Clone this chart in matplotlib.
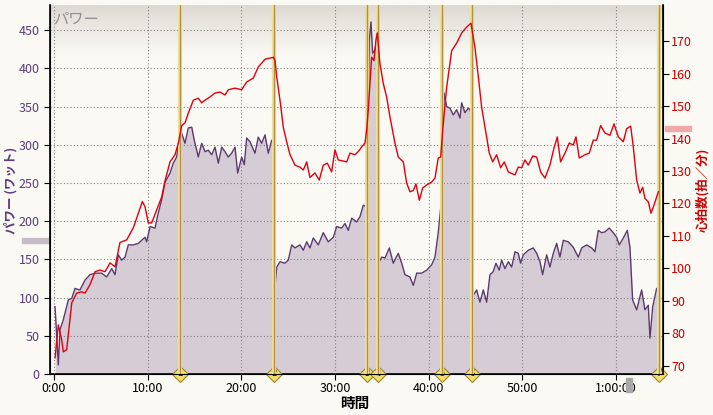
import numpy as np
import matplotlib
matplotlib.use('Agg')
import matplotlib.pyplot as plt
from matplotlib.transforms import blended_transform_factory

plt.rcParams['font.family'] = ['Noto Sans CJK JP', 'DejaVu Sans']

# power (W), time in minutes
pw_t = [0.11, 0.46, 0.64, 0.99, 1.53, 1.89, 2.24, 2.77, 3.31, 3.84, 4.38, 5.09, 5.62, 6.16, 6.51,
        6.86, 7.22, 7.58, 7.93, 8.46, 9.0, 9.71, 9.89, 10.25, 10.78, 11.13, 11.49, 11.85, 12.38,
        12.73, 13.09, 13.27, 13.63, 13.98, 14.33, 14.7, 14.97, 15.4, 15.76, 16.12, 16.47, 16.83,
        17.18, 17.54, 17.9, 18.25, 18.6, 18.96, 19.32, 19.6, 20.03, 20.31, 20.56, 20.92, 21.45,
        21.8, 22.16, 22.52, 22.87, 23.23, 23.45, 23.55, 23.77, 24.12, 24.65, 25.0, 25.37, 25.72,
        26.25, 26.61, 26.97, 27.32, 27.67, 28.21, 28.74, 29.27, 29.81, 30.17, 30.7, 31.06, 31.41,
        31.77, 32.3, 32.66, 33.01, 33.3, 33.48, 33.65, 33.83, 34.01, 34.26, 34.44, 34.56, 34.65,
        34.97, 35.33, 35.79, 36.21, 36.74, 37.11, 37.46, 37.99, 38.35, 38.71, 39.24, 39.78, 40.31,
        40.66, 41.01, 41.27, 41.48, 41.62, 41.91, 42.26, 42.62, 42.98, 43.33, 43.51, 43.86, 44.22,
        44.4, 44.55, 44.65, 44.75, 45.11, 45.46, 45.82, 46.18, 46.53, 46.88, 47.17, 47.52, 47.78,
        48.13, 48.49, 48.85, 49.2, 49.55, 49.8, 50.09, 50.62, 51.15, 51.52, 51.87, 52.15, 52.58,
        52.93, 53.29, 53.65, 54.0, 54.36, 54.89, 55.42, 55.96, 56.32, 56.85, 57.39, 57.74, 58.09,
        58.45, 58.8, 59.26, 59.69, 60.05, 60.33, 60.76, 61.19, 61.47, 61.76, 62.19, 62.72, 63.07,
        63.43, 63.61, 63.9, 64.32, 64.53]
pw_v = [88, 12, 58, 71, 97, 99, 112, 110, 123, 130, 132, 132, 127, 138, 130,
        156, 149, 153, 169, 169, 171, 179, 173, 193, 191, 211, 228, 251, 263,
        276, 284, 302, 315, 302, 322, 323, 306, 284, 302, 291, 293, 287,
        297, 276, 297, 291, 284, 289, 297, 263, 284, 274, 309, 304, 289,
        310, 302, 313, 289, 306, 300, 110, 140, 147, 145, 149, 169, 165,
        169, 162, 173, 165, 178, 169, 185, 173, 179, 193, 191, 197, 188,
        204, 199, 206, 221, 219, 302, 437, 461, 420, 424, 437, 400, 145,
        153, 152, 165, 145, 158, 145, 130, 127, 116, 132, 132, 136, 143,
        153, 185, 217, 280, 368, 350, 348, 339, 346, 335, 355, 342, 348,
        346, 340, 110, 103, 110, 94, 110, 94, 130, 134, 145, 136, 149,
        138, 147, 140, 160, 158, 145, 156, 162, 165, 158, 147, 130, 156,
        140, 158, 171, 153, 175, 173, 166, 153, 165, 169, 165, 160, 188,
        185, 186, 191, 185, 179, 169, 178, 188, 166, 97, 84, 110, 84,
        90, 47, 88, 112, 107]

# heart rate (bpm)
hr_t = [0.11, 0.46, 0.82, 0.99, 1.35, 1.89, 2.42, 2.95, 3.31, 3.84, 4.38, 4.91, 5.44, 5.98, 6.51,
        7.04, 7.76, 8.46, 9.0, 9.43, 9.71, 10.07, 10.42, 10.96, 11.49, 11.85, 12.38, 12.91, 13.27,
        13.63, 13.98, 14.33, 14.87, 15.4, 15.76, 16.12, 16.65, 17.18, 17.72, 18.25, 18.6, 19.32,
        20.03, 20.56, 21.27, 21.8, 22.52, 23.41, 23.59, 23.77, 24.12, 24.47, 24.83, 25.19, 25.72,
        26.25, 26.61, 26.97, 27.32, 27.85, 28.31, 28.74, 29.17, 29.63, 29.99, 30.34, 31.24, 31.59,
        32.12, 32.48, 32.84, 33.19, 33.37, 33.54, 33.72, 33.9, 34.15, 34.36, 34.5, 34.79, 35.14,
        35.5, 35.86, 36.39, 36.74, 37.28, 37.64, 37.99, 38.35, 38.63, 38.99, 39.35, 39.78, 40.31,
        40.66, 41.01, 41.27, 41.55, 41.91, 42.44, 42.98, 43.51, 44.04, 44.5, 44.93, 45.29, 45.64,
        46.1, 46.46, 46.82, 47.24, 47.67, 48.06, 48.49, 49.2, 49.55, 49.91, 50.27, 50.62, 51.09,
        51.52, 51.94, 52.4, 52.93, 53.36, 53.72, 54.07, 54.54, 54.99, 55.42, 55.71, 56.06, 56.67,
        57.13, 57.56, 57.92, 58.34, 58.8, 59.34, 59.77, 60.23, 60.76, 61.12, 61.55, 61.83, 62.19,
        62.54, 62.83, 63.07, 63.43, 63.72, 64.04, 64.5]
hr_v = [72.5, 82.6, 78, 74.3, 75, 89.4, 92.4, 92.8, 92.4, 95, 99, 99.5, 99, 101.7, 100.5,
        108, 108.8, 112.5, 117, 120.6, 119, 114, 114, 118, 122, 127, 132.8, 135, 138.6,
        144, 144.8, 147.8, 151.8, 152.4, 151, 151.8, 152.8, 154, 154.3, 153.4, 155, 155.5,
        155, 157.4, 158.6, 162, 164.4, 165, 164, 159, 151.8, 143.5, 139, 135, 131.8,
        131.2, 130.3, 132.8, 128, 129.4, 127.2, 131.8, 132.4, 129.7, 136.5, 133.4, 132.8, 135.5,
        135, 136, 137.4, 138.6, 142.6, 148.8, 157, 165, 164, 170.3, 172.5, 163, 157,
        152.8, 146.6, 138.6, 134.3, 132.8, 126.3, 123.6, 124, 126, 121, 124.8, 125.7, 126.6,
        127.8, 134, 134.3, 144.8, 155.8, 167, 169.4, 172.5, 174.3, 175.5, 168, 159, 149.7,
        141.7, 135.5, 132.8, 135, 131, 132.8, 129.7, 128.8, 131.2, 131, 133.4, 131.8, 134.6,
        134.3, 129.7, 127.8, 131.8, 137, 140.5, 132.8, 135.5, 138.6, 138, 140.5, 134, 135,
        135.5, 139.5, 139.5, 144, 141.7, 141, 144.5, 140.5, 139, 143, 143.8, 137.4, 127.2,
        123.2, 125, 121.6, 120.5, 117, 119.5, 123.6]

laps = [13.45, 23.5, 33.4, 34.6, 41.4, 44.6, 64.6]
lap_labels = ['1', '2', '3', '4', '5', '6', '7']
avg_power = 175
avg_hr = 143

xticks = [0, 10, 20, 30, 40, 50, 60]
xtick_labels = ['0:00', '10:00', '20:00', '30:00', '40:00', '50:00', '1:00:00']

bg = '#fbf9f4'
fig = plt.figure(figsize=(7.13, 4.15), dpi=100, facecolor=bg)
ax = fig.add_axes([50/713, 1-374/415, 613/713, 369/415])
ax.set_facecolor(bg)

# grey gradient band at top of plot area
grad = np.concatenate([np.zeros((8, 1)), np.linspace(0, 1, 100).reshape(-1, 1) ** 0.8])
cm = matplotlib.colors.LinearSegmentedColormap.from_list('g', ['#dedad4', bg])
ax.imshow(grad, cmap=cm, extent=[0, 1, 0.86, 1.0], transform=ax.transAxes,
          aspect='auto', zorder=0)

ax.fill_between(pw_t, 0, pw_v, color='#d5ccd6', zorder=2, lw=0)
ax.plot(pw_t, pw_v, color='#5b3a70', lw=1.0, zorder=3)

ax.set_xlim(-0.43, 65.0)
ax.set_ylim(0, 483)
ax.set_yticks(range(0, 451, 50))
ax.set_xticks(xticks)
ax.set_xticklabels(xtick_labels)
ax.grid(True, color='#808080', ls=(0, (1, 2)), lw=0.8, zorder=2.5)
ax.set_axisbelow(False)
ax.tick_params(axis='y', labelcolor='#5a3c7a', color='black', labelsize=9, length=4)
ax.tick_params(axis='x', labelsize=9, length=4, colors='black', pad=2)
ax.spines['top'].set_visible(False)
ax.spines['left'].set_linewidth(1.2)
ax.spines['bottom'].set_linewidth(1.2)

ax2 = ax.twinx()
ax2.patch.set_visible(False)
ax2.set_ylim(67.5, 181.1)
ax2.set_yticks(range(70, 171, 10))
ax2.tick_params(axis='y', labelcolor='#cc0000', color='black', labelsize=9, length=4, pad=2)
ax2.spines['top'].set_visible(False)
ax2.spines['right'].set_linewidth(1.2)

for lt in laps:
    ax2.axvline(lt, color='#efdf9c', lw=3.0, zorder=3)
    ax2.axvline(lt, color='#b39040', lw=1.0, zorder=3.1)

ax2.plot(hr_t, hr_v, color='#e00010', lw=1.0, zorder=4)

for lt, lb in zip(laps, lap_labels):
    ax.plot(lt, 0, marker='D', ms=8, mfc='#f2e06a', mec='#9c8430', mew=0.8,
            clip_on=False, zorder=10)
    ax.text(lt, 0, lb, ha='center', va='center', fontsize=5.5, fontweight='bold',
            color='#333300', zorder=11, clip_on=False, family='DejaVu Sans')

# average indicators
tr = blended_transform_factory(ax.transAxes, ax.transData)
ax.add_patch(plt.Rectangle((-28/613, avg_power - 3), 27/613, 6, transform=tr,
                           color='#c6bcc8', clip_on=False, zorder=1))
tr2 = blended_transform_factory(ax2.transAxes, ax2.transData)
ax2.add_patch(plt.Rectangle((1 + 2/613, avg_hr - 0.8), 26/613, 1.6, transform=tr2,
                            color='#f0a8a8', clip_on=False, zorder=1))
fig.patches.append(plt.Rectangle((626/713, 1-392/415), 6/713, 14/415,
                                 transform=fig.transFigure, color='#a8a8a8'))

ax.text(0.005, 0.985, 'パワー', transform=ax.transAxes, ha='left', va='top',
        fontsize=11, color='#909090', style='italic', zorder=12)
fig.text(11/713, 1-190/415, 'パワー (ワット)', rotation=90, ha='center', va='center',
         fontsize=9, color='#5a3c7a', fontweight='bold')
fig.text(703/713, 1-190/415, '心拍数(拍／分)', rotation=90, ha='center', va='center',
         fontsize=9, color='#cc0000', fontweight='bold')
fig.text(355/713, 1-403/415, '時間', ha='center', va='center', fontsize=10.5,
         fontweight='bold', color='black')

fig.savefig('out.png', dpi=100, facecolor=bg)
